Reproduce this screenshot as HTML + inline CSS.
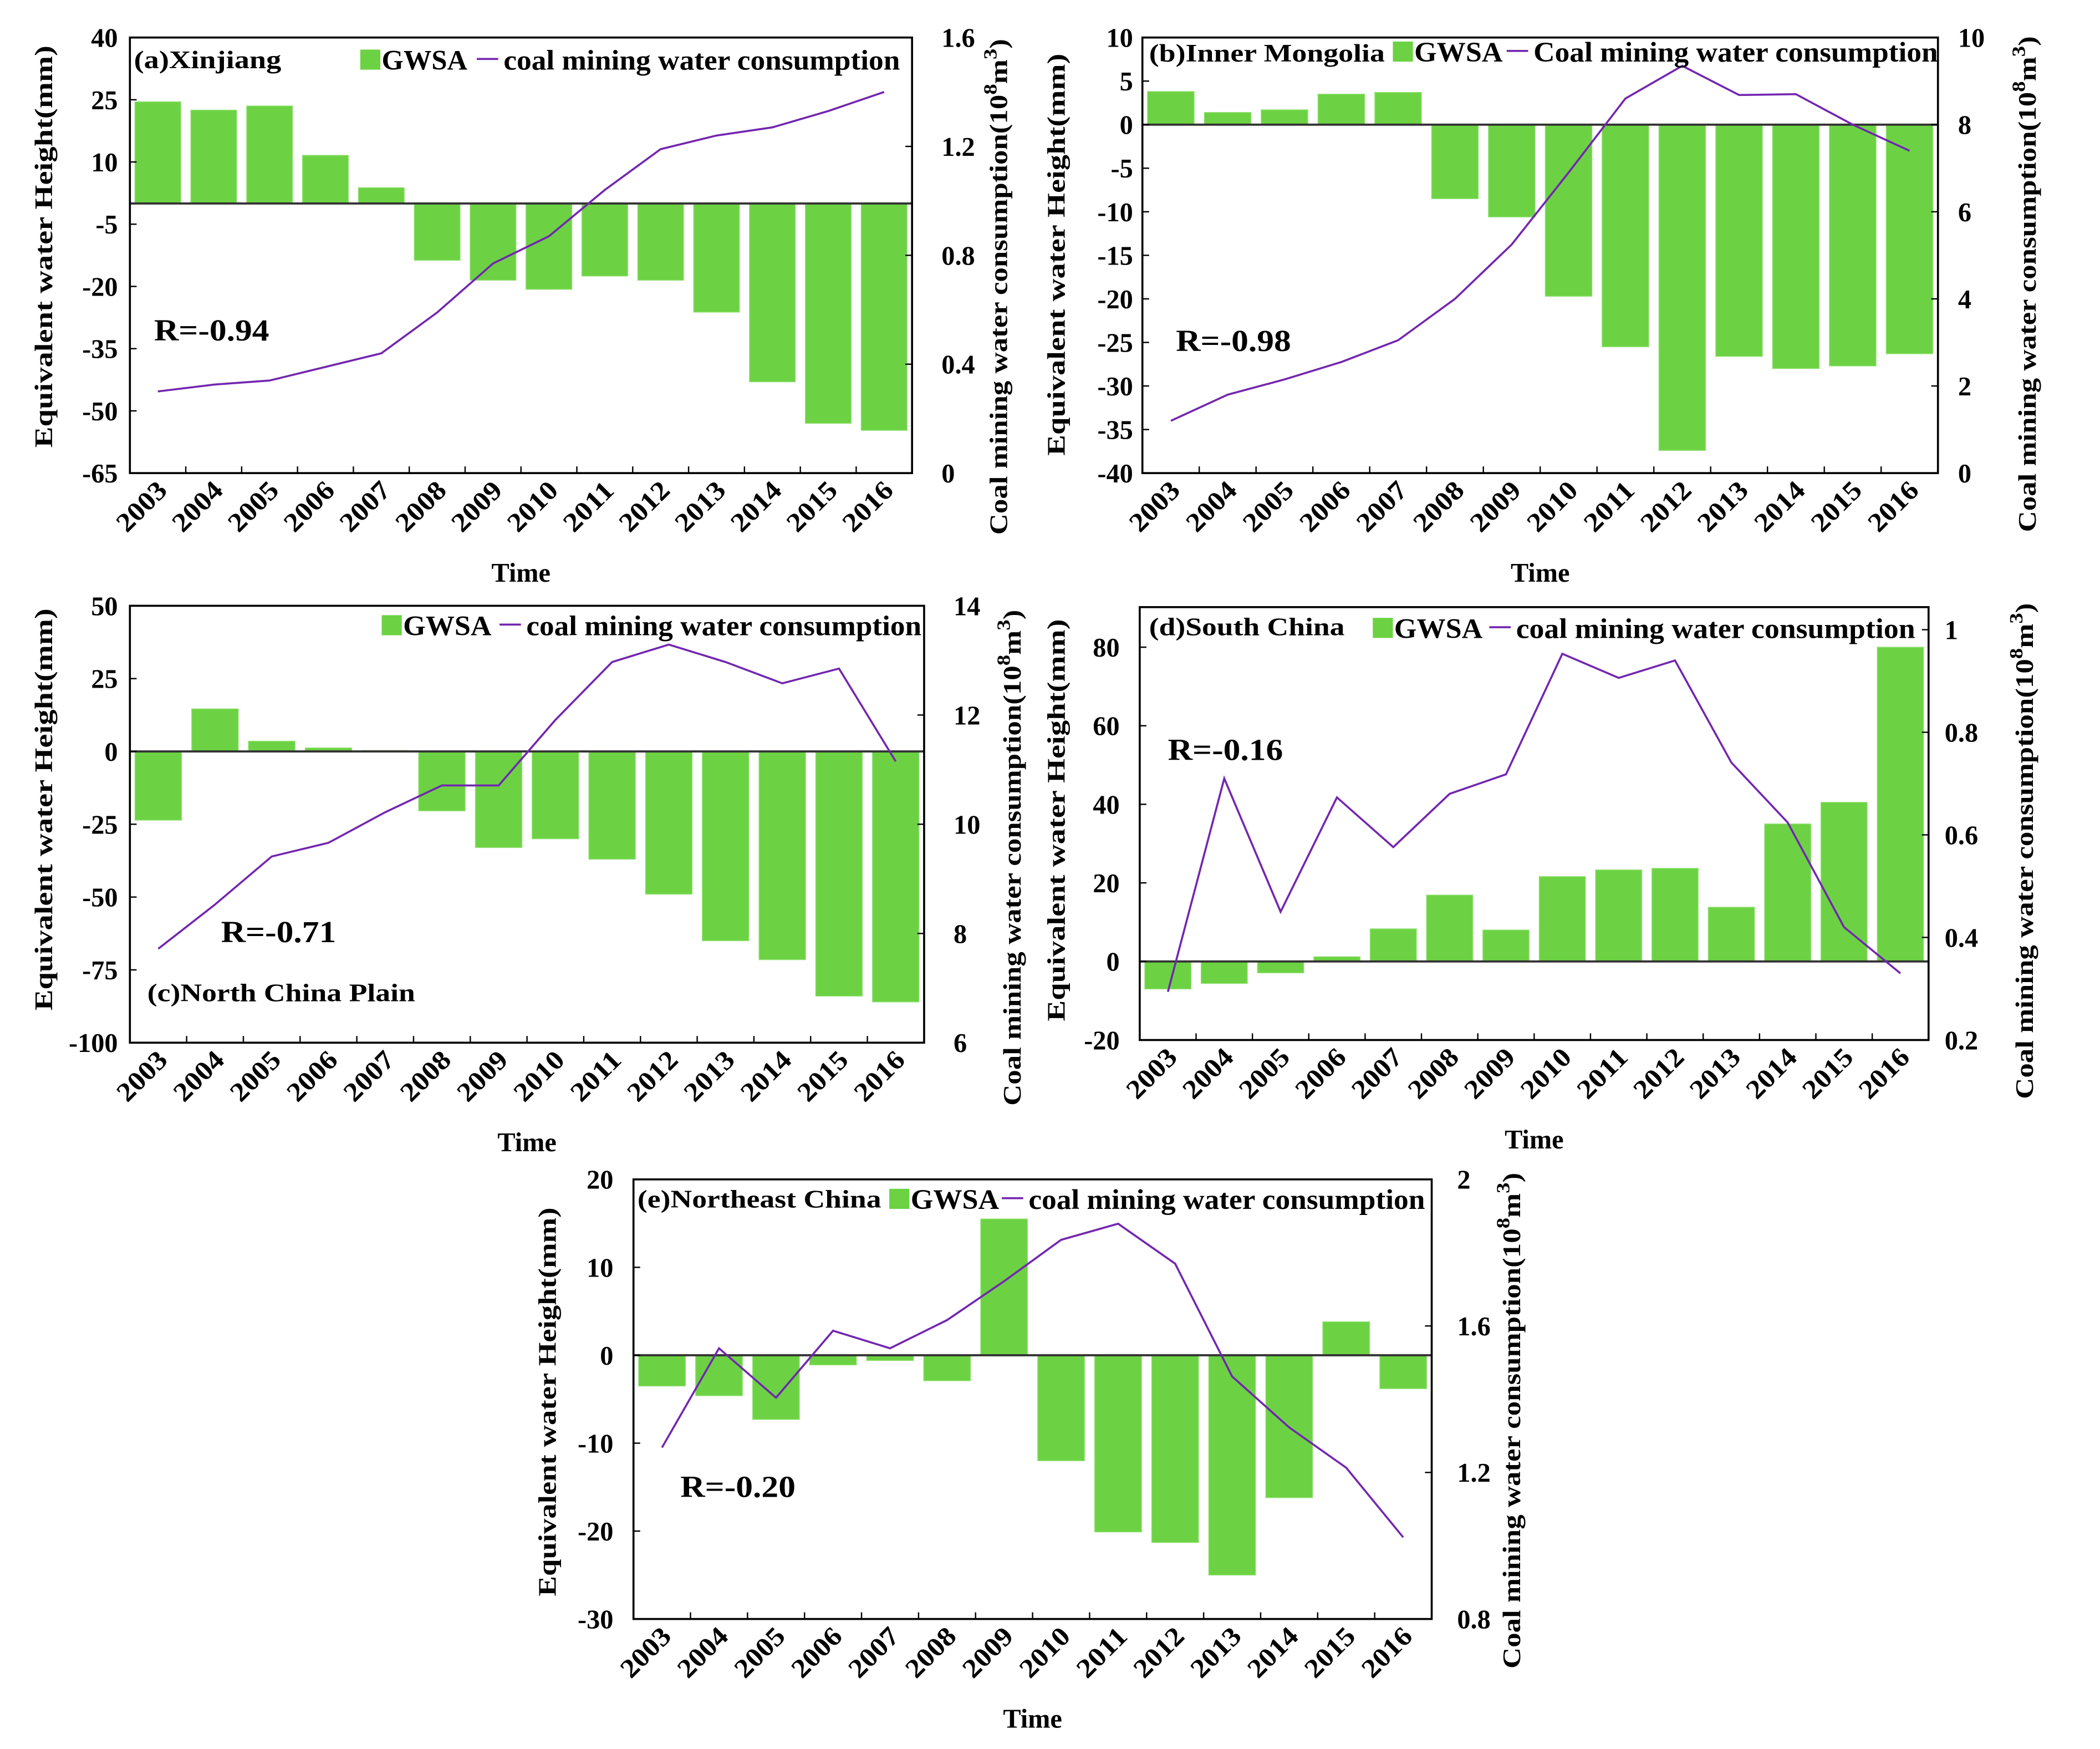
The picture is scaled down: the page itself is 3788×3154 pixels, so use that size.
<!DOCTYPE html>
<html><head><meta charset="utf-8">
<style>
html,body{margin:0;padding:0;background:#fff;}
svg{display:block;}
text{font-family:"Liberation Serif",serif;font-weight:bold;fill:#000;}
</style></head>
<body>
<svg id="fig" width="3788" height="3154" viewBox="0 0 1568 1305" preserveAspectRatio="none" xmlns="http://www.w3.org/2000/svg"></svg>
<script>
const years = ["2003","2004","2005","2006","2007","2008","2009","2010","2011","2012","2013","2014","2015","2016"];
const gwsaA = [24.5,22.5,23.5,11.6,3.8,-13.7,-18.5,-20.7,-17.5,-18.5,-26.2,-43,-53,-54.7];
const coalA = [0.30,0.325,0.34,0.39,0.44,0.59,0.77,0.87,1.04,1.19,1.24,1.27,1.33,1.40];
const gwsaB = [3.8,1.4,1.7,3.5,3.7,-8.5,-10.6,-19.7,-25.5,-37.4,-26.6,-28,-27.7,-26.3];
const coalB = [1.2,1.8,2.15,2.55,3.05,4.0,5.25,6.9,8.6,9.35,8.68,8.7,8.0,7.4];
const gwsaC = [-23.6,14.6,3.5,1.2,0.3,-20.4,-33,-30,-37,-49,-65,-71.5,-84,-86];
const coalC = [7.72,8.53,9.41,9.66,10.22,10.71,10.71,11.91,12.97,13.29,12.97,12.58,12.85,11.15];
const gwsaD = [-7,-5.6,-2.9,1.2,8.3,16.9,8,21.6,23.3,23.7,13.8,35,40.5,80];
const coalD = [0.294,0.71,0.45,0.673,0.576,0.68,0.718,0.953,0.906,0.94,0.741,0.624,0.42,0.33];
const gwsaE = [-3.5,-4.6,-7.3,-1.1,-0.6,-2.9,15.5,-12,-20.1,-21.3,-25,-16.2,3.8,-3.8];
const coalE = [1.268,1.539,1.404,1.587,1.539,1.616,1.722,1.835,1.879,1.770,1.462,1.323,1.213,1.023];
const ticksLA = [40,25,10,-5,-20,-35,-50,-65];
const ticksRA = ["0","0.4","0.8","1.2","1.6"];
const ticksLB = [10,5,0,-5,-10,-15,-20,-25,-30,-35,-40];
const ticksRB = ["0","2","4","6","8","10"];
const ticksLC = [50,25,0,-25,-50,-75,-100];
const ticksRC = ["6","8","10","12","14"];
const ticksLD = [80,60,40,20,0,-20];
const ticksRD = ["0.2","0.4","0.6","0.8","1"];
const ticksLE = [20,10,0,-10,-20,-30];
const ticksRE = ["0.8","1.2","1.6","2"];

const NS="http://www.w3.org/2000/svg";
const svg=document.getElementById('fig');
function mk(parent,tag,attrs,txt){
  const e=document.createElementNS(NS,tag);
  for(const k in attrs) e.setAttribute(k,attrs[k]);
  if(txt!==undefined) e.textContent=txt;
  parent.appendChild(e); return e;
}
function panel(cfg){
  const g=mk(svg,'g',{});
  
  
  const {x0,x1,y0,y1,lmin,lmax,rmin,rmax}=cfg;
  const yl=v=>y1-(v-lmin)/(lmax-lmin)*(y1-y0);
  const yr=v=>y1-(v-rmin)/(rmax-rmin)*(y1-y0);
  const cw=(x1-x0)/years.length;
  const xc=i=>x0+cw*(i+0.5);
  cfg.gwsa.forEach((v,i)=>{
    const top=Math.min(yl(v),yl(0)), h=Math.abs(yl(v)-yl(0));
    const r=mk(g,'rect',{x:xc(i)-cw*0.41,y:top,width:cw*0.82,height:h,fill:'#6cd243',stroke:'#8fe070','stroke-width':0.6});
    
    
  });
  const zl=mk(g,'line',{x1:x0,x2:x1,y1:yl(0),y2:yl(0),stroke:'#333',"stroke-width":1.6});
  
  
  const pts=cfg.coal.map((v,i)=>xc(i)+','+yr(v)).join(' ');
  const pl=mk(g,'polyline',{points:pts,fill:'none',stroke:'#7326b0','stroke-width':1.5});
  
  
  const fr=mk(g,'rect',{x:x0,y:y0,width:x1-x0,height:y1-y0,fill:'none',stroke:'#000','stroke-width':1.5});
  
  
  cfg.tl.forEach(t=>{
    const y=yl(t);
    mk(g,'line',{x1:x0,x2:x0+5,y1:y,y2:y,stroke:'#000','stroke-width':1});
    const tx=mk(g,'text',{x:cfg.lx,y:y+7,'text-anchor':'end','font-size':20},String(t));
    
    
  });
  cfg.tr.forEach(t=>{
    const y=yr(parseFloat(t));
    mk(g,'line',{x1:x1-5,x2:x1,y1:y,y2:y,stroke:'#000','stroke-width':1});
    const tx=mk(g,'text',{x:cfg.rx,y:y+7,'font-size':20},t);
    
    
  });
  for(let i=1;i<years.length;i++) mk(g,'line',{x1:x0+cw*i,x2:x0+cw*i,y1:y1,y2:y1-5,stroke:'#000','stroke-width':1});
  years.forEach((yy,i)=>{
    const px=xc(i)+8, py=y1+14;
    const tx=mk(g,'text',{x:px,y:py,'text-anchor':'end','font-size':20,textLength:44,lengthAdjust:'spacingAndGlyphs',transform:`rotate(-45 ${px} ${py})`},yy);
    
    
  });
  const tm=mk(g,'text',{x:(x0+x1)/2,y:y1+81,'text-anchor':'middle','font-size':20},'Time');
  
  
  const lt=mk(g,'text',{x:0,y:0,'text-anchor':'middle','font-size':19,textLength:cfg.ltLen,lengthAdjust:'spacingAndGlyphs',transform:`translate(${cfg.ltx},${cfg.lty}) rotate(-90)`},'Equivalent water Height(mm)');
  
  
  const rt=mk(g,'text',{x:0,y:0,'text-anchor':'middle','font-size':19,textLength:370,lengthAdjust:'spacingAndGlyphs',transform:`translate(${cfg.rtx},${cfg.rty}) rotate(-90)`});
  
  
  mk(rt,'tspan',{},'Coal mining water consumption(10');
  mk(rt,'tspan',{dy:-8,'font-size':14},'8');
  mk(rt,'tspan',{dy:8},'m');
  mk(rt,'tspan',{dy:-8,'font-size':14},'3');
  mk(rt,'tspan',{dy:8},')');
  const pn=mk(g,'text',{x:cfg.px,y:cfg.py,'font-size':19,textLength:cfg.pl,lengthAdjust:'spacingAndGlyphs'},cfg.name);
  
  
  const lg=mk(g,'g',{});
  
  
  const L=cfg.leg;
  const sw=mk(lg,'rect',{x:L.bx,y:L.y-15,width:15,height:15,fill:'#6cd243'});
  
  
  const t1=mk(lg,'text',{x:L.bx+16,y:L.y,'font-size':21,textLength:L.gl,lengthAdjust:'spacingAndGlyphs'},'GWSA');
  
  
  const ln=mk(lg,'line',{x1:L.lx,x2:L.lx+16,y1:L.y-8,y2:L.y-8,stroke:'#7326b0','stroke-width':1.5});
  
  
  const t2=mk(lg,'text',{x:L.lx+20,y:L.y,'font-size':21,textLength:L.tl,lengthAdjust:'spacingAndGlyphs'},cfg.legText);
  
  
  const rr=mk(g,'text',{x:cfg.Rx,y:cfg.Ry,'font-size':23,textLength:86,lengthAdjust:'spacingAndGlyphs'},cfg.R);
  
  
}
panel({id:'a',x0:97,x1:681,y0:28,y1:353,lmin:-65,lmax:40,rmin:0,rmax:1.6,gwsa:gwsaA,coal:coalA,tl:ticksLA,tr:ticksRA,
 lx:88,rx:703,ltx:39,lty:184,ltLen:300,rtx:752,rty:214,px:100,py:51,pl:110,name:'(a)Xinjiang',
 leg:{bx:269,y:52,gl:64,lx:356,tl:296},legText:'coal mining water consumption',R:'R=-0.94',Rx:115,Ry:254});
panel({id:'b',x0:853,x1:1447,y0:28,y1:353,lmin:-40,lmax:10,rmin:0,rmax:10,gwsa:gwsaB,coal:coalB,tl:ticksLB,tr:ticksRB,
 lx:846,rx:1462,ltx:795,lty:190,ltLen:300,rtx:1520,rty:212,px:858,py:46,pl:176,name:'(b)Inner Mongolia',
 leg:{bx:1040,y:46,gl:66,lx:1125,tl:302},legText:'Coal mining water consumption',R:'R=-0.98',Rx:878,Ry:262});
panel({id:'c',x0:97,x1:690,y0:452,y1:778,lmin:-100,lmax:50,rmin:6,rmax:14,gwsa:gwsaC,coal:coalC,tl:ticksLC,tr:ticksRC,
 lx:88,rx:712,ltx:39,lty:604,ltLen:300,rtx:762,rty:640,px:110,py:747,pl:200,name:'(c)North China Plain',
 leg:{bx:285,y:474,gl:66,lx:373,tl:295},legText:'coal mining water consumption',R:'R=-0.71',Rx:165,Ry:703});
panel({id:'d',x0:851,x1:1440,y0:453,y1:776,lmin:-20,lmax:90.2,rmin:0.2,rmax:1.044,gwsa:gwsaD,coal:coalD,tl:ticksLD,tr:ticksRD,
 lx:836,rx:1452,ltx:795,lty:612,ltLen:300,rtx:1518,rty:635,px:858,py:474,pl:146,name:'(d)South China',
 leg:{bx:1025,y:476,gl:66,lx:1112,tl:298},legText:'coal mining water consumption',R:'R=-0.16',Rx:872,Ry:567});
panel({id:'e',x0:473,x1:1069,y0:880,y1:1208,lmin:-30,lmax:20,rmin:0.8,rmax:2,gwsa:gwsaE,coal:coalE,tl:ticksLE,tr:ticksRE,
 lx:458,rx:1088,ltx:415,lty:1046,ltLen:290,rtx:1135,rty:1060,px:476,py:901,pl:182,name:'(e)Northeast China',
 leg:{bx:664,y:902,gl:66,lx:748,tl:296},legText:'coal mining water consumption',R:'R=-0.20',Rx:508,Ry:1117});
</script>
</body></html>
